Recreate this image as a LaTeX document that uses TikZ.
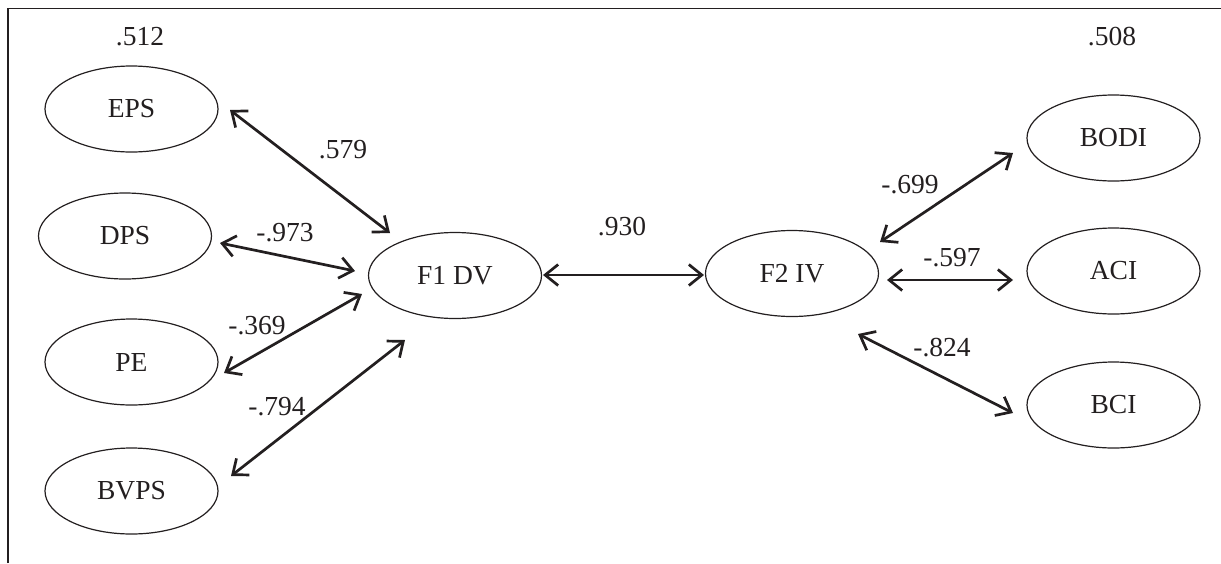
\documentclass[tikz,border=0pt]{standalone}
\usepackage{fontspec}
\setmainfont{Liberation Serif}
\usetikzlibrary{arrows.meta,calc,shapes.geometric}
\definecolor{ink}{HTML}{231F20}
\tikzset{
  var/.style={ellipse,draw=ink,line width=1.2pt,minimum width=173pt,minimum height=86pt,inner sep=0pt,text=ink,font=\fontsize{27.5}{32}\selectfont},
  lab/.style={inner sep=0pt,text=ink,font=\fontsize{27.5}{32}\selectfont},
  arr/.style={draw=ink,line width=2.7pt,{Straight Barb[length=13pt,width=21pt]}-{Straight Barb[length=13pt,width=21pt]}}
}
\begin{document}
\begin{tikzpicture}[x=1pt,y=-1pt]
\useasboundingbox (0,0) rectangle (1221,563);
\coordinate (frameA) at (8,563);
\coordinate (frameB) at (8,8.5);
\coordinate (frameC) at (1221,8.5);
\draw[ink,line width=1.5pt] (frameA) -- (frameB) -- (frameC);

\node[var] (eps) at (131.5,109) {EPS};
\node[var] (dps) at (125,236) {DPS};
\node[var] (pe) at (131.5,362) {PE};
\node[var] (bvps) at (131.5,491) {BVPS};
\node[var] (f1) at (455,275.5) {F1 DV};
\node[var] (f2) at (792,273.5) {F2 IV};
\node[var] (bodi) at (1113.5,138) {BODI};
\node[var] (aci) at (1113.5,271) {ACI};
\node[var] (bci) at (1113.5,405) {BCI};

\draw[arr] ($(eps.center)+(98.5,1)$) -- ($(f1.center)+(-65,-42.5)$);
\draw[arr] ($(dps.center)+(95,7)$) -- ($(f1.center)+(-100,-4.5)$);
\draw[arr] ($(pe.center)+(92.5,11)$) -- ($(f1.center)+(-93,18.5)$);
\draw[arr] ($(bvps.center)+(99.5,-15)$) -- ($(f1.center)+(-50,64.5)$);
\draw[arr] ($(f1.center)+(88,-0.5)$) -- ($(f2.center)+(-88,1.5)$);
\draw[arr] ($(f2.center)+(88,-31.5)$) -- ($(bodi.center)+(-100.5,15)$);
\draw[arr] ($(f2.center)+(95,6.5)$) -- ($(aci.center)+(-100.5,9)$);
\draw[arr] ($(f2.center)+(66,60.5)$) -- ($(bci.center)+(-100.5,8)$);

\node[lab] (l512) at (140,37) {.512};
\node[lab] (l508) at (1112,37) {.508};
\node[lab] (l579) at (343,150) {.579};
\node[lab] (l973) at (285,233) {-.973};
\node[lab] (l369) at (257,326) {-.369};
\node[lab] (l794) at (277,407) {-.794};
\node[lab] (l930) at (622,227) {.930};
\node[lab] (l699) at (910,185) {-.699};
\node[lab] (l597) at (952,258) {-.597};
\node[lab] (l824) at (942,348) {-.824};
\end{tikzpicture}
\end{document}
